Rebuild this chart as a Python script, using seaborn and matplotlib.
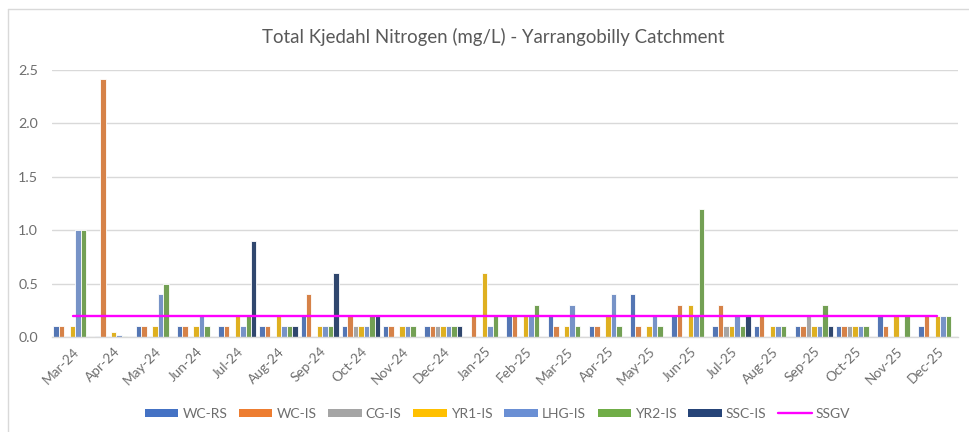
import numpy as np
import pandas as pd
import matplotlib
matplotlib.use("Agg")
import matplotlib.pyplot as plt
from matplotlib.patches import Patch
from matplotlib.lines import Line2D
import seaborn as sns

nan = np.nan

months = ["Mar-24", "Apr-24", "May-24", "Jun-24", "Jul-24", "Aug-24", "Sep-24",
          "Oct-24", "Nov-24", "Dec-24", "Jan-25", "Feb-25", "Mar-25", "Apr-25",
          "May-25", "Jun-25", "Jul-25", "Aug-25", "Sep-25", "Oct-25", "Nov-25",
          "Dec-25"]

wc_rs = [0.1, 0.01, 0.1, 0.1, 0.1, 0.1, 0.2, 0.1, 0.1, 0.1, nan, 0.2,
         0.2, 0.1, 0.4, 0.2, 0.1, 0.1, 0.1, 0.1, 0.2, 0.1]
wc_is = [0.1, 2.42, 0.1, 0.1, 0.1, 0.1, 0.4, 0.2, 0.1, 0.1, 0.2, 0.2,
         0.1, 0.1, 0.1, 0.3, 0.3, 0.2, 0.1, 0.1, 0.1, 0.2]
cg_is = [nan, nan, nan, nan, nan, nan, nan, 0.1, nan, 0.1, nan, nan,
         nan, nan, nan, nan, 0.1, nan, 0.2, 0.1, nan, nan]
yr1_is = [0.1, 0.05, 0.1, 0.1, 0.2, 0.2, 0.1, 0.1, 0.1, 0.1, 0.6, 0.2,
          0.1, 0.2, 0.1, 0.3, 0.1, 0.1, 0.1, 0.1, 0.2, 0.2]
lhg_is = [1.0, 0.02, 0.4, 0.2, 0.1, 0.1, 0.1, 0.1, 0.1, 0.1, 0.1, 0.2,
          0.3, 0.4, 0.2, 0.2, 0.2, 0.1, 0.1, 0.1, nan, 0.2]
yr2_is = [1.0, 0.01, 0.5, 0.1, 0.2, 0.1, 0.1, 0.2, 0.1, 0.1, 0.2, 0.3,
          0.1, 0.1, 0.1, 1.2, 0.1, 0.1, 0.3, 0.1, 0.2, 0.2]
ssc_is = [nan, nan, nan, nan, 0.9, 0.1, 0.6, 0.2, nan, 0.1, nan, nan,
          nan, nan, nan, nan, 0.2, nan, 0.1, nan, nan, nan]

sites = ["WC-RS", "WC-IS", "CG-IS", "YR1-IS", "LHG-IS", "YR2-IS", "SSC-IS"]
site_values = [wc_rs, wc_is, cg_is, yr1_is, lhg_is, yr2_is, ssc_is]
site_colors = ["#4472C4", "#ED7D31", "#A5A5A5", "#FFC000", "#6A8FD4",
               "#70AD47", "#264478"]

# Site-specific guideline value for TKN
ssgv_label = "SSGV"
ssgv_value = 0.2

y_ticks = [0.0, 0.5, 1.0, 1.5, 2.0, 2.5]

wide = pd.DataFrame(dict(zip(sites, site_values)))
wide["Month"] = months
long = wide.melt(id_vars="Month", var_name="Site", value_name="TKN")

sns.set_theme(style="white")
plt.rcParams["font.family"] = ["Lato", "DejaVu Sans"]

text_grey = "#595959"
tick_grey = "#6E6E6E"
grid_grey = "#D9D9D9"

fig = plt.figure(figsize=(9.7, 4.32), dpi=100)
ax = fig.add_axes([0.0536, 0.2199, 0.934, 0.6181])

sns.barplot(data=long, x="Month", y="TKN", hue="Site", hue_order=sites,
            order=months, palette=site_colors, width=0.93, dodge=True,
            edgecolor="white", linewidth=0.6, errorbar=None, legend=False,
            zorder=2, ax=ax)

positions = np.arange(len(months))
guide = pd.DataFrame({"pos": positions, "val": np.full(len(months), ssgv_value)})
sns.lineplot(data=guide, x="pos", y="val", color="#FF00FF", linewidth=1.7,
             zorder=3, ax=ax)

ax.set_xlim(-0.5, len(months) - 0.5)
ax.set_ylim(0, 2.5)
ax.set_yticks(y_ticks)
ax.set_yticklabels([f"{t:.1f}" for t in y_ticks])
ax.set_xticks(positions)
ax.set_xticklabels(months, rotation=45, ha="right", rotation_mode="anchor")
ax.tick_params(axis="x", length=0, pad=6, labelsize=9.8, labelcolor=tick_grey)
ax.tick_params(axis="y", length=0, pad=10, labelsize=10.3, labelcolor=tick_grey)
ax.set_xlabel("")
ax.set_ylabel("")
ax.yaxis.grid(True, color=grid_grey, linewidth=1.0, zorder=0)
ax.set_axisbelow(True)
for side in ["top", "right", "left"]:
    ax.spines[side].set_visible(False)
ax.spines["bottom"].set_color(grid_grey)
ax.spines["bottom"].set_linewidth(1.0)

fig.text(0.508, 0.915, "Total Kjedahl Nitrogen (mg/L) - Yarrangobilly Catchment",
         ha="center", va="center", fontsize=13.4, color=text_grey)

handles = [Patch(facecolor=c, edgecolor="none", label=s)
           for s, c in zip(sites, site_colors)]
handles.append(Line2D([0], [0], color="#FF00FF", linewidth=1.7, label=ssgv_label))
fig.legend(handles=handles, loc="center", bbox_to_anchor=(0.513, 0.042),
           ncol=len(handles), frameon=False, fontsize=10, handlelength=2.4,
           handleheight=0.6, handletextpad=0.3, columnspacing=0.85,
           labelcolor=tick_grey)

# chart frame edges
fig.add_artist(Line2D([0.0082, 0.0082], [0.0, 0.979], color=grid_grey,
                      linewidth=1.0, transform=fig.transFigure))
fig.add_artist(Line2D([0.0082, 1.0], [0.979, 0.979], color=grid_grey,
                      linewidth=1.0, transform=fig.transFigure))

fig.savefig("out.png", dpi=100)
